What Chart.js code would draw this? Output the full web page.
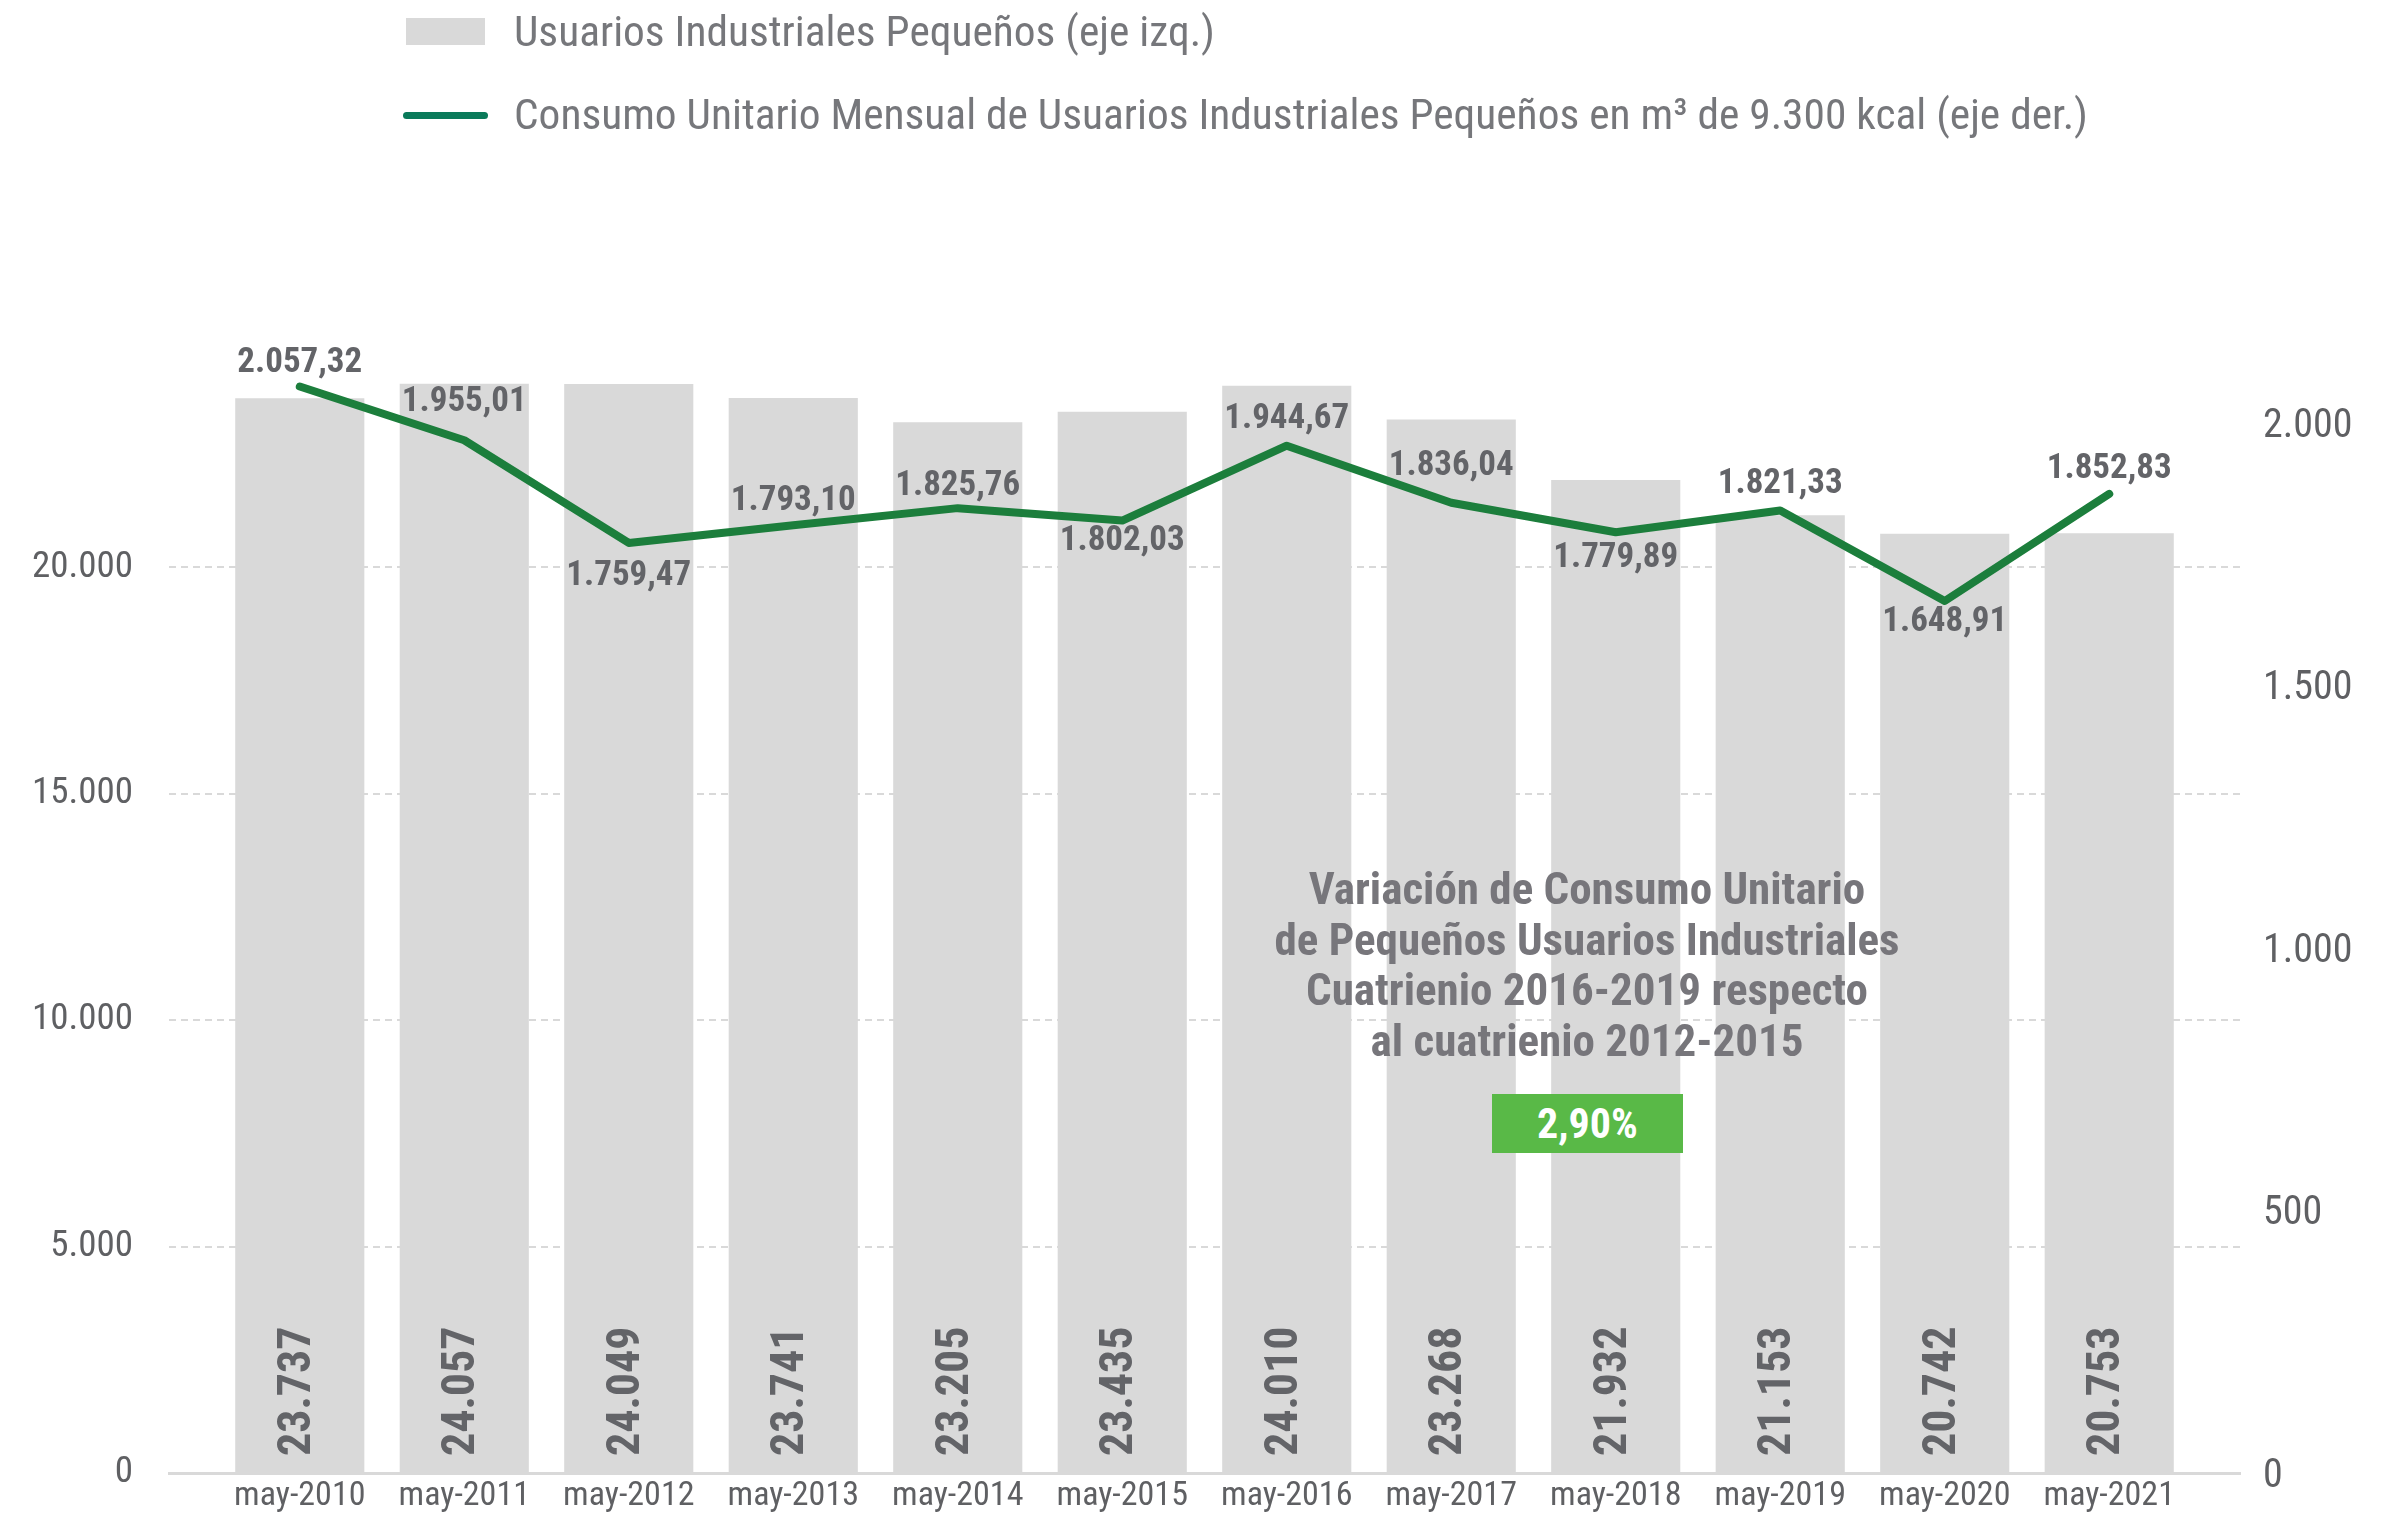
<!DOCTYPE html>
<html lang="es">
<head>
<meta charset="utf-8">
<title>Usuarios Industriales Pequeños</title>
<script src="https://cdn.jsdelivr.net/npm/chart.js@4/dist/chart.umd.min.js"></script>
<style>
  html, body { margin: 0; padding: 0; background: #fff; }
  #wrap { position: relative; width: 2392px; height: 1515px; }
  #wrap canvas { position: absolute; left: 0; top: 0; }
  .txt { position: absolute; font-family: "Roboto Condensed", "Liberation Sans Narrow", "DejaVu Sans Condensed", sans-serif; white-space: nowrap; }
  .legend-text { left: 514px; font-size: 43.4px; line-height: 43px; color: #76777b; }
  .legend-box { position: absolute; left: 406px; top: 18px; width: 79px; height: 27px; background: #d9d9d9; }
  .legend-line { position: absolute; left: 403px; top: 112px; width: 85px; height: 7px; border-radius: 3.5px; background: #0a7a5a; }
  #note { left: 1237px; top: 864px; width: 700px; text-align: center; font-size: 45px; line-height: 50.5px; font-weight: bold; color: #77767b; }
  #badge { left: 1492px; top: 1094px; width: 191px; height: 59px; background: #59b947; color: #fff; font-size: 42px; line-height: 59px; font-weight: bold; text-align: center; }
</style>
</head>
<body>
<div id="wrap">
  <canvas id="consumoChart" width="2392" height="1515"></canvas>
  <div class="legend-box"></div>
  <div class="txt legend-text" style="top: 10px;">Usuarios Industriales Pequeños (eje izq.)</div>
  <div class="legend-line"></div>
  <div class="txt legend-text" style="top: 93px;">Consumo Unitario Mensual de Usuarios Industriales Pequeños en m³ de 9.300 kcal (eje der.)</div>
  <div class="txt" id="note">Variación de Consumo Unitario<br>de Pequeños Usuarios Industriales<br>Cuatrienio 2016-2019 respecto<br>al cuatrienio 2012-2015</div>
  <div class="txt" id="badge">2,90%</div>
</div>
<script>
// data
const categories = ['may-2010', 'may-2011', 'may-2012', 'may-2013', 'may-2014', 'may-2015',
                    'may-2016', 'may-2017', 'may-2018', 'may-2019', 'may-2020', 'may-2021'];
const usuarios = [23737, 24057, 24049, 23741, 23205, 23435, 24010, 23268, 21932, 21153, 20742, 20753];
const consumo = [2057.32, 1955.01, 1759.47, 1793.10, 1825.76, 1802.03, 1944.67, 1836.04, 1779.89, 1821.33, 1648.91, 1852.83];
const leftTicks = [0, 5000, 10000, 15000, 20000];
const rightTicks = [0, 500, 1000, 1500, 2000];

// label placement for the line values (px above the point, negative = below)
const lineLabelOffsets = [23, 38, -33, 24, 22, -21, 26, 36, -26, 26, -21, 25];

const FONT = '"Roboto Condensed", "Liberation Sans Narrow", "DejaVu Sans Condensed", sans-serif';
const GREY_TXT = '#5f6063';
const LABEL_TXT = '#636468';

function fmtInt(v) {
    return String(Math.round(v)).replace(/\B(?=(\d{3})+(?!\d))/g, '.');
}
function fmtDec(v) {
    const parts = v.toFixed(2).split('.');
    return fmtInt(Number(parts[0])) + ',' + parts[1];
}

// keep the plot area fixed: no extra room for overhanging tick labels
function noPadding(scale) {
    scale.paddingTop = 0;
    scale.paddingBottom = 0;
    scale.paddingLeft = 0;
    scale.paddingRight = 0;
}

Chart.defaults.font.family = FONT;
Chart.defaults.color = GREY_TXT;

// value labels on bars (rotated) and on the line
const valueLabels = {
    id: 'valueLabels',
    afterDatasetsDraw(chart) {
        const ctx = chart.ctx;
        const bars = chart.getDatasetMeta(0).data;
        const points = chart.getDatasetMeta(1).data;
        ctx.save();
        ctx.fillStyle = LABEL_TXT;
        ctx.font = 'bold 46px ' + FONT;
        bars.forEach((bar, i) => {
            ctx.save();
            ctx.translate(bar.x + 10, bar.base - 16);
            ctx.rotate(-Math.PI / 2);
            ctx.textAlign = 'left';
            ctx.textBaseline = 'alphabetic';
            ctx.fillText(fmtInt(usuarios[i]), 0, 0);
            ctx.restore();
        });
        ctx.font = 'bold 35px ' + FONT;
        ctx.textAlign = 'center';
        ctx.textBaseline = 'middle';
        points.forEach((pt, i) => {
            ctx.fillText(fmtDec(consumo[i]), pt.x, pt.y - lineLabelOffsets[i]);
        });
        ctx.restore();
    }
};

const canvas = document.getElementById('consumoChart');

const consumoChart = new Chart(canvas, {
    type: 'bar',
    data: {
        datasets: [
            {
                type: 'bar',
                label: 'Usuarios Industriales Pequeños (eje izq.)',
                data: usuarios.map((v, i) => ({x: i, y: v})),
                backgroundColor: '#d9d9d9',
                borderWidth: 0,
                categoryPercentage: 1,
                barPercentage: 0.785,
                yAxisID: 'y',
                order: 1
            },
            {
                type: 'line',
                label: 'Consumo Unitario Mensual de Usuarios Industriales Pequeños en m³ de 9.300 kcal (eje der.)',
                data: consumo.map((v, i) => ({x: i, y: v})),
                borderColor: '#1c7e3c',
                borderWidth: 8,
                borderCapStyle: 'round',
                borderJoinStyle: 'round',
                pointRadius: 0,
                tension: 0,
                yAxisID: 'y1',
                order: 0
            }
        ]
    },
    options: {
        responsive: false,
        animation: false,
        layout: { padding: { top: 341, left: 0, right: 0, bottom: 0 } },
        plugins: {
            legend: { display: false },
            tooltip: { enabled: false }
        },
        scales: {
            x: {
                type: 'linear',
                offset: false,
                min: -0.795,
                max: 11.795,
                afterBuildTicks: (scale) => { scale.ticks = categories.map((c, i) => ({value: i})); },
                afterFit: (scale) => { scale.height = 42; noPadding(scale); },
                grid: { display: false, drawTicks: false },
                border: { display: true, color: '#d9d9d9', width: 3 },
                ticks: {
                    autoSkip: false,
                    maxRotation: 0,
                    padding: 3,
                    color: GREY_TXT,
                    font: { size: 34 },
                    callback: (v) => categories[v]
                }
            },
            y: {
                position: 'left',
                min: 0,
                max: 25000,
                afterBuildTicks: (scale) => { scale.ticks = leftTicks.map(v => ({value: v})); },
                afterFit: (scale) => { scale.width = 169; noPadding(scale); },
                grid: {
                    drawTicks: false,
                    lineWidth: 2,
                    color: (c) => (c.tick && c.tick.value === 0) ? 'rgba(0,0,0,0)' : '#d9d9d9'
                },
                border: { display: false, dash: [7, 5] },
                ticks: {
                    padding: 36,
                    color: GREY_TXT,
                    font: { size: 37 },
                    callback: (v) => fmtInt(v)
                }
            },
            y1: {
                position: 'right',
                min: -11.4,
                max: 2144,
                afterBuildTicks: (scale) => { scale.ticks = rightTicks.map(v => ({value: v})); },
                afterFit: (scale) => { scale.width = 152; noPadding(scale); },
                grid: { display: false, drawTicks: false },
                border: { display: false },
                ticks: {
                    padding: 23,
                    labelOffset: 10,
                    color: GREY_TXT,
                    font: { size: 40 },
                    callback: (v) => fmtInt(v)
                }
            }
        }
    },
    plugins: [valueLabels]
});
</script>
</body>
</html>
